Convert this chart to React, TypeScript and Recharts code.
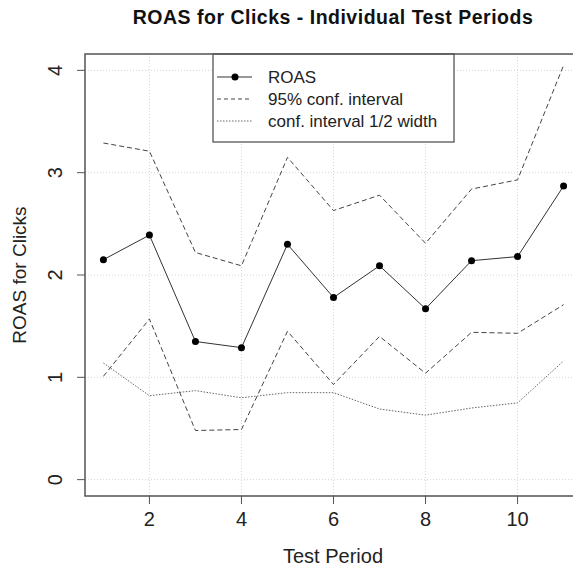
import React from 'react';
import {
  LineChart,
  Line,
  XAxis,
  YAxis,
  CartesianGrid,
  ReferenceArea,
  Customized,
} from 'recharts';

const periods = [1, 2, 3, 4, 5, 6, 7, 8, 9, 10, 11];
const roas = [2.15, 2.39, 1.35, 1.29, 2.3, 1.78, 2.09, 1.67, 2.14, 2.18, 2.87];
const upperCI = [3.29, 3.21, 2.22, 2.09, 3.15, 2.63, 2.78, 2.31, 2.84, 2.93, 4.05];
const lowerCI = [1.01, 1.57, 0.48, 0.49, 1.45, 0.93, 1.4, 1.04, 1.44, 1.43, 1.71];
const halfWidth = [1.14, 0.82, 0.87, 0.8, 0.85, 0.85, 0.69, 0.63, 0.7, 0.75, 1.16];

const xTicks = [2, 4, 6, 8, 10];
const yTicks = [0, 1, 2, 3, 4];

const title = 'ROAS for Clicks - Individual Test Periods';
const xLabel = 'Test Period';
const yLabel = 'ROAS for Clicks';
const legendLabels = ['ROAS', '95% conf. interval', 'conf. interval 1/2 width'];

const data = periods.map((p, i) => ({
  period: p,
  roas: roas[i],
  upper: upperCI[i],
  lower: lowerCI[i],
  half: halfWidth[i],
}));

const FONT = '"Liberation Sans", Arial, Helvetica, sans-serif';

const XTick = (props: any) => {
  const { x, y, payload } = props;
  return (
    <text x={x} y={y + 20} textAnchor="middle" fontSize={20} fontFamily={FONT} fill="#222">
      {payload.value}
    </text>
  );
};

const YTick = (props: any) => {
  const { x, y, payload } = props;
  const tx = x - 13;
  return (
    <text
      x={tx}
      y={y}
      transform={`rotate(-90 ${tx} ${y})`}
      textAnchor="middle"
      fontSize={20}
      fontFamily={FONT}
      fill="#222"
    >
      {payload.value}
    </text>
  );
};

const Decorations = () => {
  const rows = [77, 99, 121];
  return (
    <g fontFamily={FONT}>
      <text
        x={333}
        y={24}
        textAnchor="middle"
        fontSize={19.5}
        letterSpacing={0.5}
        fontWeight="bold"
        fill="#111"
      >
        {title}
      </text>
      <text x={333} y={563} textAnchor="middle" fontSize={20} fill="#222">
        {xLabel}
      </text>
      <text
        x={26}
        y={275}
        transform="rotate(-90 26 275)"
        textAnchor="middle"
        fontSize={19}
        fill="#222"
      >
        {yLabel}
      </text>
      <rect x={213} y={54} width={241} height={88} fill="#fff" stroke="#555" strokeWidth={1.3} />
      <line x1={217} x2={252} y1={rows[0]} y2={rows[0]} stroke="#333" strokeWidth={1} />
      <circle cx={235} cy={rows[0]} r={3.5} fill="#000" />
      <line x1={217} x2={252} y1={rows[1]} y2={rows[1]} stroke="#444" strokeDasharray="4 3" />
      <line x1={217} x2={252} y1={rows[2]} y2={rows[2]} stroke="#666" strokeDasharray="1.5 1.5" />
      {legendLabels.map((l, i) => (
        <text key={l} x={268} y={rows[i] + 6} fontSize={17} fill="#222">
          {l}
        </text>
      ))}
    </g>
  );
};

export default function App() {
  return (
    <div
      style={{
        position: 'absolute',
        left: 0,
        top: 0,
        width: 573,
        height: 566,
        overflow: 'hidden',
        background: '#fff',
      }}
    >
      <LineChart
        width={600}
        height={566}
        data={data}
        margin={{ top: 54, right: 18, bottom: 30, left: 45 }}
      >
        <CartesianGrid stroke="#d6d6d6" strokeDasharray="1 2" />
        <XAxis
          dataKey="period"
          type="number"
          domain={[0.6, 11.4]}
          ticks={xTicks}
          height={40}
          axisLine={false}
          tickSize={8}
          tickLine={{ stroke: '#555' }}
          tick={<XTick />}
          allowDataOverflow
        />
        <YAxis
          type="number"
          domain={[-0.16, 4.16]}
          ticks={yTicks}
          width={40}
          axisLine={false}
          tickSize={8}
          tickLine={{ stroke: '#555' }}
          tick={<YTick />}
          allowDataOverflow
        />
        <ReferenceArea
          x1={0.6}
          x2={11.4}
          y1={-0.16}
          y2={4.16}
          fill="none"
          fillOpacity={0}
          stroke="#555"
          strokeWidth={1.5}
          ifOverflow="visible"
        />
        <Line
          dataKey="upper"
          stroke="#444"
          strokeDasharray="5 3"
          strokeWidth={1}
          dot={false}
          isAnimationActive={false}
        />
        <Line
          dataKey="lower"
          stroke="#444"
          strokeDasharray="5 3"
          strokeWidth={1}
          dot={false}
          isAnimationActive={false}
        />
        <Line
          dataKey="half"
          stroke="#666"
          strokeDasharray="1.5 1.5"
          strokeWidth={1}
          dot={false}
          isAnimationActive={false}
        />
        <Line
          dataKey="roas"
          stroke="#333"
          strokeWidth={1}
          dot={{ r: 3.5, fill: '#000', stroke: '#000', strokeWidth: 0 }}
          isAnimationActive={false}
        />
        <Customized component={Decorations} />
      </LineChart>
    </div>
  );
}
